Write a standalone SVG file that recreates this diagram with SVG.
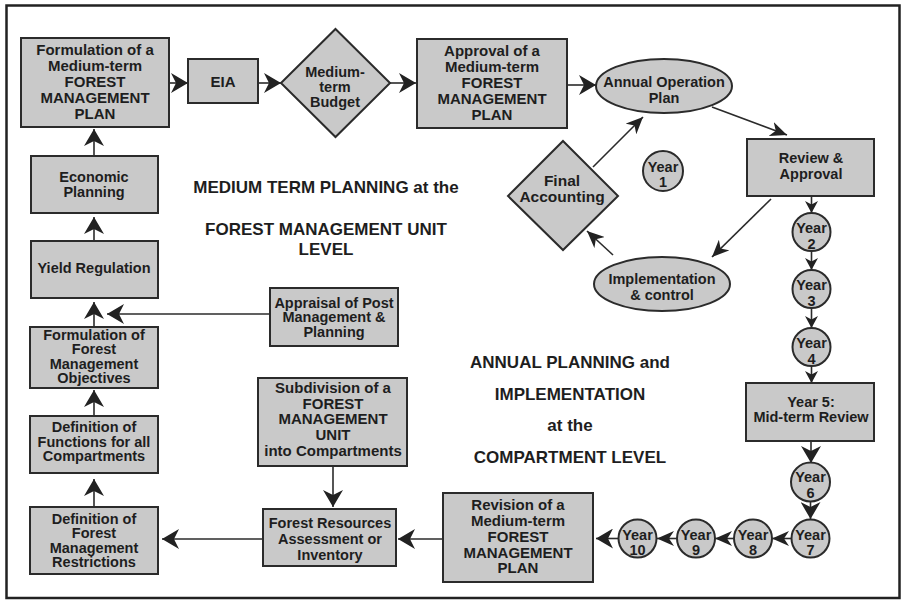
<svg xmlns="http://www.w3.org/2000/svg" width="908" height="607" viewBox="0 0 908 607">
<defs>
<style>
.box{fill:#c9c9c9;stroke:#2b2b2b;stroke-width:2}
.t{font-family:"Liberation Sans",Arial,sans-serif;font-weight:bold;fill:#1e1e1e;text-anchor:middle}
.f15{font-size:15px}
.f14{font-size:14.5px}
.f16{font-size:15.5px}
.lbl{font-size:17px}
.c{fill:none;stroke:#2b2b2b;stroke-width:1.6}
.ah{marker-end:url(#ah)}
.am{marker-end:url(#am)}
.as{marker-end:url(#as)}
</style>
<marker id="ah" viewBox="0 0 17 20" markerWidth="17" markerHeight="20" refX="17" refY="10" orient="auto" markerUnits="userSpaceOnUse"><path d="M0,0 L17,10 L0,20 L5,10 z" fill="#222"/></marker>
<marker id="am" viewBox="0 0 17 15" markerWidth="17" markerHeight="15" refX="17" refY="7.5" orient="auto" markerUnits="userSpaceOnUse"><path d="M0,0 L17,7.5 L0,15 L5,7.5 z" fill="#222"/></marker>
<marker id="as" viewBox="0 0 12 13" markerWidth="12" markerHeight="13" refX="12" refY="6.5" orient="auto" markerUnits="userSpaceOnUse"><path d="M0,0 L12,6.5 L0,13 L3.5,6.5 z" fill="#222"/></marker>
</defs>
<rect x="0" y="0" width="908" height="607" fill="#ffffff"/>
<rect x="6.5" y="5.5" width="893" height="592.5" fill="none" stroke="#222" stroke-width="2.5"/>

<g id="connectors">
<line class="c ah" x1="169" y1="83" x2="188" y2="83"/>
<line class="c ah" x1="258" y1="83" x2="281" y2="83"/>
<line class="c ah" x1="390" y1="83" x2="416" y2="83"/>
<line class="c ah" x1="567" y1="85" x2="596" y2="85"/>
<line class="c am" x1="712" y1="107" x2="787" y2="135"/>
<line class="c as" x1="811.5" y1="196" x2="811.5" y2="213"/>
<line class="c as" x1="811.5" y1="251" x2="811.5" y2="270"/>
<line class="c as" x1="811.5" y1="308" x2="811.5" y2="328"/>
<line class="c as" x1="811.5" y1="366" x2="811.5" y2="383"/>
<line class="c ah" x1="811" y1="441" x2="811" y2="463"/>
<line class="c ah" x1="810.5" y1="501" x2="810.5" y2="519"/>
<line class="c am" x1="791" y1="538.5" x2="772" y2="538.5"/>
<line class="c am" x1="734" y1="538.5" x2="715" y2="538.5"/>
<line class="c am" x1="677" y1="538.5" x2="657" y2="538.5"/>
<line class="c ah" x1="619" y1="538.5" x2="596" y2="538.5"/>
<line class="c ah" x1="443" y1="539" x2="398" y2="539"/>
<line class="c ah" x1="333" y1="466" x2="333" y2="507"/>
<line class="c ah" x1="263" y1="539" x2="162" y2="539"/>
<line class="c ah" x1="94" y1="507" x2="94" y2="479"/>
<line class="c ah" x1="94" y1="416" x2="94" y2="390"/>
<line class="c ah" x1="94" y1="327" x2="94" y2="302"/>
<line class="c ah" x1="270" y1="314" x2="107" y2="314"/>
<line class="c ah" x1="94" y1="241" x2="94" y2="217"/>
<line class="c ah" x1="94" y1="156" x2="94" y2="129"/>
<line class="c am" x1="593" y1="167" x2="643" y2="117"/>
<line class="c am" x1="771" y1="199" x2="712" y2="257"/>
<line class="c am" x1="613" y1="255" x2="587" y2="231"/>
</g>

<g id="n-formulation"><rect class="box" x="21" y="38" width="148" height="89"/>
<text class="t f15" x="95" y="54.5">Formulation of a</text><text class="t f15" x="95" y="70.5">Medium-term</text><text class="t f15" x="95" y="86.5">FOREST</text><text class="t f15" x="95" y="102.5">MANAGEMENT</text><text class="t f15" x="95" y="118.5">PLAN</text></g>

<g id="n-eia"><rect class="box" x="188" y="59" width="70" height="44"/><text class="t f15" x="223" y="86.5">EIA</text></g>

<g id="n-budget"><polygon class="box" points="335.5,29 390,83 335.5,137 281,83"/>
<text class="t f14" x="335" y="77">Medium-</text><text class="t f14" x="335" y="92">term</text><text class="t f14" x="335" y="107">Budget</text></g>

<g id="n-approval"><rect class="box" x="417" y="39" width="150" height="89"/>
<text class="t f15" x="492" y="55.5">Approval of a</text><text class="t f15" x="492" y="71.5">Medium-term</text><text class="t f15" x="492" y="87.5">FOREST</text><text class="t f15" x="492" y="103.5">MANAGEMENT</text><text class="t f15" x="492" y="119.5">PLAN</text></g>

<g id="n-aop"><ellipse class="box" cx="664" cy="86" rx="68" ry="27"/>
<text class="t f14" x="664" y="87">Annual Operation</text><text class="t f14" x="664" y="103">Plan</text></g>

<g id="n-review"><rect class="box" x="747" y="139" width="127" height="57"/>
<text class="t f14" x="811" y="163">Review &amp;</text><text class="t f14" x="811" y="179">Approval</text></g>

<g id="n-year1"><circle class="box" cx="663" cy="171" r="20"/>
<text class="t f14" x="663" y="172">Year</text><text class="t f14" x="663" y="187">1</text></g>

<g id="n-final"><polygon class="box" points="563,141 618,196 563,250 508,196"/>
<text class="t f16" x="562" y="185.5">Final</text><text class="t f16" x="562" y="201.5">Accounting</text></g>

<g id="n-impl"><ellipse class="box" cx="662" cy="284" rx="68" ry="27"/>
<text class="t f14" x="662" y="284">Implementation</text><text class="t f14" x="662" y="300">&amp; control</text></g>

<g id="n-year2"><circle class="box" cx="811.5" cy="232" r="19"/>
<text class="t f14" x="811.5" y="233">Year</text><text class="t f14" x="811.5" y="249">2</text></g>
<g id="n-year3"><circle class="box" cx="811.5" cy="289" r="19"/>
<text class="t f14" x="811.5" y="290">Year</text><text class="t f14" x="811.5" y="306">3</text></g>
<g id="n-year4"><circle class="box" cx="811.5" cy="347" r="19"/>
<text class="t f14" x="811.5" y="348">Year</text><text class="t f14" x="811.5" y="364">4</text></g>

<g id="n-year5"><rect class="box" x="746" y="383" width="128" height="58"/>
<text class="t f14" x="811" y="407">Year 5:</text><text class="t f14" x="811" y="422">Mid-term Review</text></g>

<g id="n-year6"><circle class="box" cx="810.5" cy="482" r="19.5"/>
<text class="t f14" x="810.5" y="482">Year</text><text class="t f14" x="810.5" y="498">6</text></g>
<g id="n-year7"><circle class="box" cx="810.5" cy="538.5" r="19"/>
<text class="t f14" x="810.5" y="540">Year</text><text class="t f14" x="810.5" y="555">7</text></g>
<g id="n-year8"><circle class="box" cx="753" cy="538.5" r="19"/>
<text class="t f14" x="753" y="540">Year</text><text class="t f14" x="753" y="555">8</text></g>
<g id="n-year9"><circle class="box" cx="696" cy="538.5" r="19"/>
<text class="t f14" x="696" y="540">Year</text><text class="t f14" x="696" y="555">9</text></g>
<g id="n-year10"><circle class="box" cx="637.5" cy="538.5" r="19"/>
<text class="t f14" x="637.5" y="540">Year</text><text class="t f14" x="637.5" y="555">10</text></g>

<g id="n-revision"><rect class="box" x="443" y="493" width="150" height="89"/>
<text class="t f15" x="518" y="509.5">Revision of a</text><text class="t f15" x="518" y="525.5">Medium-term</text><text class="t f15" x="518" y="541.5">FOREST</text><text class="t f15" x="518" y="557.5">MANAGEMENT</text><text class="t f15" x="518" y="572.5">PLAN</text></g>

<g id="n-fra"><rect class="box" x="263" y="509" width="133" height="57"/>
<text class="t f14" x="330" y="528">Forest  Resources</text><text class="t f14" x="330" y="544">Assessment or</text><text class="t f14" x="330" y="560">Inventory</text></g>

<g id="n-subdivision"><rect class="box" x="258" y="378" width="149" height="88"/>
<text class="t f15" x="333" y="392.5">Subdivision of a</text><text class="t f15" x="333" y="408.5">FOREST</text><text class="t f15" x="333" y="423.5">MANAGEMENT</text><text class="t f15" x="333" y="439.5">UNIT</text><text class="t f15" x="333" y="455.5">into Compartments</text></g>

<g id="n-restrictions"><rect class="box" x="30" y="507" width="128" height="67"/>
<text class="t f14" x="94" y="524">Definition of</text><text class="t f14" x="94" y="538">Forest</text><text class="t f14" x="94" y="553">Management</text><text class="t f14" x="94" y="567">Restrictions</text></g>

<g id="n-functions"><rect class="box" x="30" y="416" width="128" height="57"/>
<text class="t f14" x="94" y="432">Definition of</text><text class="t f14" x="94" y="447">Functions for all</text><text class="t f14" x="94" y="461">Compartments</text></g>

<g id="n-objectives"><rect class="box" x="30" y="327" width="128" height="61"/>
<text class="t f14" x="94" y="340">Formulation of</text><text class="t f14" x="94" y="354">Forest</text><text class="t f14" x="94" y="369">Management</text><text class="t f14" x="94" y="383">Objectives</text></g>

<g id="n-yield"><rect class="box" x="31" y="241" width="127" height="57"/>
<text class="t f14" x="94" y="273">Yield Regulation</text></g>

<g id="n-economic"><rect class="box" x="31" y="156" width="127" height="57"/>
<text class="t f14" x="94" y="182">Economic</text><text class="t f14" x="94" y="197">Planning</text></g>

<g id="n-appraisal"><rect class="box" x="270" y="288" width="128" height="58"/>
<text class="t f14" x="334" y="308">Appraisal of Post</text><text class="t f14" x="334" y="322">Management &amp;</text><text class="t f14" x="334" y="337">Planning</text></g>

<g id="labels">
<text class="t lbl" x="326" y="193">MEDIUM TERM PLANNING at the</text>
<text class="t lbl" x="326" y="235">FOREST MANAGEMENT UNIT</text>
<text class="t lbl" x="326" y="255">LEVEL</text>
<text class="t lbl" x="570" y="368">ANNUAL PLANNING and</text>
<text class="t lbl" x="570" y="400">IMPLEMENTATION</text>
<text class="t lbl" x="570" y="431">at the</text>
<text class="t lbl" x="570" y="463">COMPARTMENT LEVEL</text>
</g>
</svg>
